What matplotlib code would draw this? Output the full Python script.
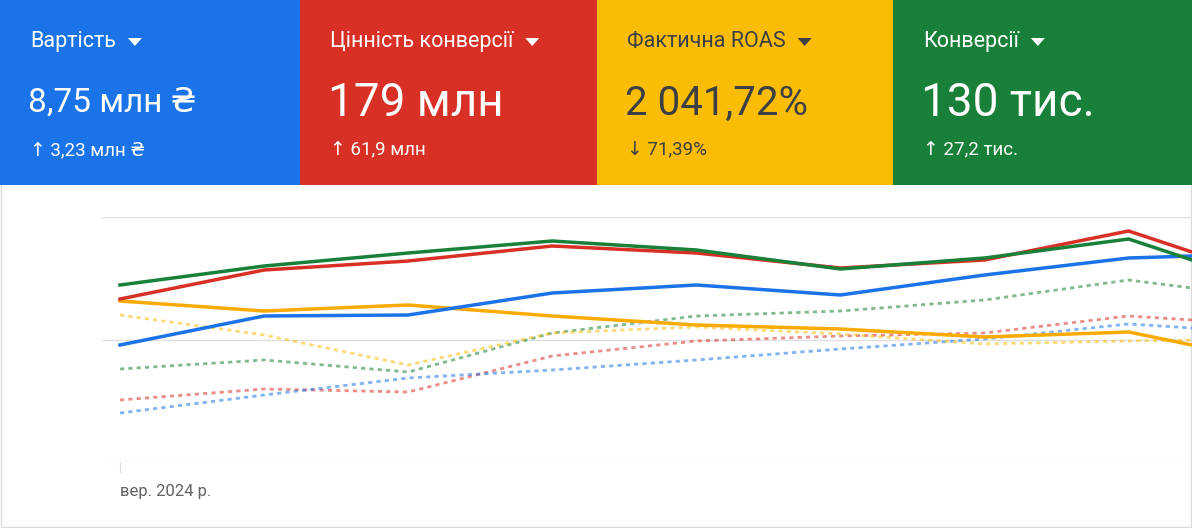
import matplotlib.pyplot as plt
from matplotlib.patches import Rectangle

plt.rcParams['font.family'] = ['Roboto', 'DejaVu Sans']

W, H = 1192, 528
card_titles = ['Вартість', 'Цінність конверсії', 'Фактична ROAS', 'Конверсії']
card_values = ['8,75 млн ₴', '179 млн', '2 041,72%', '130 тис.']
card_deltas = ['↑ 3,23 млн ₴', '↑ 61,9 млн', '↓ 71,39%', '↑ 27,2 тис.']
card_colors = ['#1a73e8', '#d93025', '#fbbc04', '#188038']
card_text = ['white', 'white', '#3c4043', 'white']
value_sizes = [24, 33, 29, 33]

x_pos = [0, 1, 2, 3, 4, 5, 6, 7, 7.44]
green_solid = [285, 266, 253, 241, 250, 269, 258, 239, 260]
red_solid = [299, 270, 261, 246, 253, 268, 260, 231, 252]
blue_solid = [345, 316, 315, 293, 285, 295, 275, 258, 256]
yellow_solid = [301, 311, 305, 316, 325, 329, 337, 332, 345]
green_dot = [369, 360, 372, 333, 316, 311, 300, 280, 288]
red_dot = [400, 389, 392, 356, 341, 336, 333, 316, 320]
blue_dot = [413, 395, 378, 370, 360, 349, 339, 324, 328]
yellow_dot = [315, 335, 365, 333, 327, 334, 344, 341, 340]
x_tick_label = 'вер. 2024 р.'

fig = plt.figure(figsize=(W/100, H/100), dpi=100)
fig.patch.set_facecolor('white')
bg = fig.add_axes([0, 0, 1, 1]); bg.set_xlim(0, W); bg.set_ylim(H, 0); bg.axis('off')
bg.add_patch(Rectangle((0.5, 0.5), W-1.5, H-2, fill=False, ec='#dadce0', lw=1))
edges = [0, 300, 597, 893, W]
for i in range(4):
    x0 = edges[i]
    bg.add_patch(Rectangle((x0, 0), edges[i+1]-x0, 185, color=card_colors[i], lw=0))
    c = card_text[i]
    t = bg.text(x0+30, 42, card_titles[i], color=c, fontsize=15.5, va='center')
    fig.canvas.draw()
    bb = t.get_window_extent()
    tx = bb.x1 + 19
    bg.fill([tx-7, tx+7, tx], [38, 38, 46], color=c, lw=0)
    bg.text(x0+28, 103, card_values[i], color=c, fontsize=value_sizes[i], va='center')
    bg.text(x0+30, 150, card_deltas[i], color=c, fontsize=13.5, va='center')

ax = fig.add_axes([102/W, 1-462/H, (W-102)/W, 245/H])
ax.set_xlim(-0.125, 7.44)
ax.set_ylim(462, 217)
for y in [217, 340, 462]:
    ax.axhline(y, color='#e0e0e0', lw=1)
for s in ax.spines.values(): s.set_visible(False)
ax.set_yticks([])
ax.set_xticks([0]); ax.set_xticklabels([x_tick_label], ha='left')
ax.tick_params(axis='x', colors='#dadce0', labelcolor='#5f6368', labelsize=12, length=8, pad=8)
ax.patch.set_alpha(0)
for ys, c in [(green_dot, '#188038'), (red_dot, '#d93025'), (blue_dot, '#1a73e8'), (yellow_dot, '#fbbc04')]:
    ax.plot(x_pos, ys, color=c, lw=2, ls=(0, (1.5, 1.5)), alpha=0.55)
for ys, c in [(yellow_solid, '#f9ab00'), (blue_solid, '#1a73e8'), (red_solid, '#d93025'), (green_solid, '#188038')]:
    ax.plot(x_pos, ys, color=c, lw=2.5)
fig.savefig('out.png', dpi=100)
